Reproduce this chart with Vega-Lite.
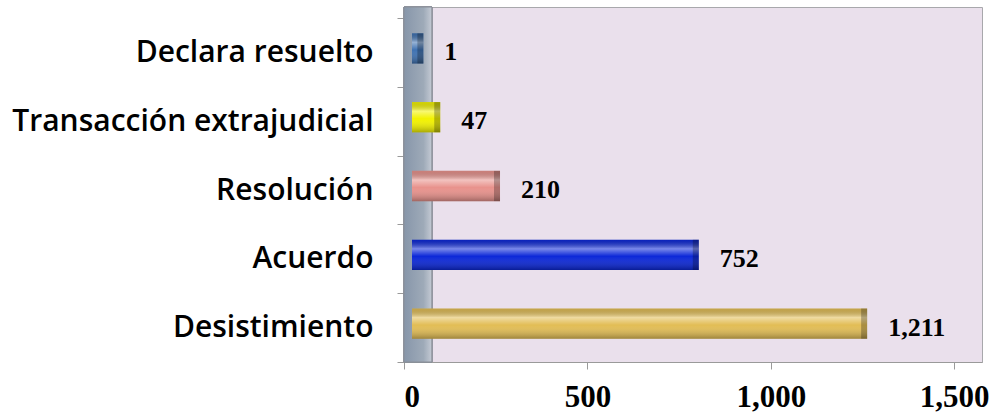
{
  "$schema": "https://vega.github.io/schema/vega-lite/v6.json",
  "autosize": "none",
  "padding": {"left": 404, "top": 7, "right": 9, "bottom": 54},
  "width": 578,
  "height": 355,
  "background": "white",
  "config": {
    "view": {"fill": "#eae0ec", "stroke": "#a8a8ac", "strokeWidth": 1}
  },
  "data": {
    "values": [
      {"tipo": "Declara resuelto", "casos": 1},
      {"tipo": "Transacción extrajudicial", "casos": 47},
      {"tipo": "Resolución", "casos": 210},
      {"tipo": "Acuerdo", "casos": 752},
      {"tipo": "Desistimiento", "casos": 1211}
    ]
  },
  "encoding": {
    "y": {
      "field": "tipo",
      "type": "nominal",
      "sort": ["Declara resuelto", "Transacción extrajudicial", "Resolución", "Acuerdo", "Desistimiento"],
      "scale": {"paddingInner": 0, "paddingOuter": 0.08, "align": 1},
      "axis": {
        "title": null,
        "tickBand": "extent",
        "tickSize": 7,
        "tickColor": "#9a9a9a",
        "domainColor": "#9a9a9a",
        "labelFont": "Open Sans",
        "labelFontWeight": 600,
        "labelFontSize": 30,
        "labelColor": "#000000",
        "labelPadding": 24,
        "labelLimit": 500
      }
    }
  },
  "layer": [
    {
      "mark": {
        "type": "rect",
        "stroke": "#8a8f98",
        "strokeWidth": 1,
        "fill": {
          "gradient": "linear",
          "x1": 0, "y1": 0, "x2": 1, "y2": 0,
          "stops": [
            {"offset": 0, "color": "#8796aa"},
            {"offset": 0.7, "color": "#9eaab8"},
            {"offset": 1, "color": "#c4cad4"}
          ]
        }
      },
      "encoding": {
        "y": null,
        "x": {"datum": 0, "type": "quantitative"},
        "x2": {"datum": 76}
      }
    },
    {
      "mark": {"type": "bar", "height": {"band": 0.44}, "xOffset": 19, "x2Offset": 8, "yOffset": -4},
      "encoding": {
        "x": {
          "field": "casos",
          "type": "quantitative",
          "stack": null,
          "scale": {"domain": [0, 1576], "nice": false},
          "axis": {
            "title": null,
            "values": [0, 500, 1000, 1500],
            "format": ",d",
            "grid": false,
            "tickSize": 7,
            "tickColor": "#9a9a9a",
            "domainColor": "#9a9a9a",
            "labelFont": "Liberation Serif",
            "labelFontWeight": "bold",
            "labelFontSize": 31,
            "labelColor": "#000000",
            "labelPadding": 13
          }
        },
        "x2": {"datum": 0},
        "color": {
          "field": "tipo",
          "type": "nominal",
          "legend": null,
          "scale": {
            "domain": ["Declara resuelto", "Transacción extrajudicial", "Resolución", "Acuerdo", "Desistimiento"],
            "range": ["#3f72b2", "#f2f200", "#e8928c", "#0c28d8", "#e2bd55"]
          }
        }
      }
    },
    {
      "mark": {
        "type": "bar",
        "height": {"band": 0.44},
        "xOffset": 19,
        "x2Offset": 8,
        "yOffset": -4,
        "fill": {
          "gradient": "linear",
          "x1": 0, "y1": 0, "x2": 0, "y2": 1,
          "stops": [
            {"offset": 0, "color": "rgba(0,0,0,0.12)"},
            {"offset": 0.3, "color": "rgba(255,255,255,0.45)"},
            {"offset": 0.55, "color": "rgba(255,255,255,0)"},
            {"offset": 1, "color": "rgba(0,0,0,0.3)"}
          ]
        }
      },
      "encoding": {
        "x": {"field": "casos", "type": "quantitative", "stack": null},
        "x2": {"datum": 0}
      }
    },
    {
      "mark": {
        "type": "bar",
        "height": {"band": 0.44},
        "xOffset": 19,
        "x2Offset": 13,
        "yOffset": -4,
        "fill": "#000000",
        "fillOpacity": 0.25
      },
      "encoding": {
        "x": {"field": "casos", "type": "quantitative", "stack": null},
        "x2": {"field": "casos"}
      }
    },
    {
      "mark": {
        "type": "text",
        "align": "left",
        "baseline": "middle",
        "dx": 40,
        "font": "Liberation Serif",
        "fontWeight": "bold",
        "fontSize": 26,
        "color": "#000000"
      },
      "encoding": {
        "x": {"field": "casos", "type": "quantitative"},
        "text": {"field": "casos", "type": "quantitative", "format": ",d"}
      }
    }
  ]
}
